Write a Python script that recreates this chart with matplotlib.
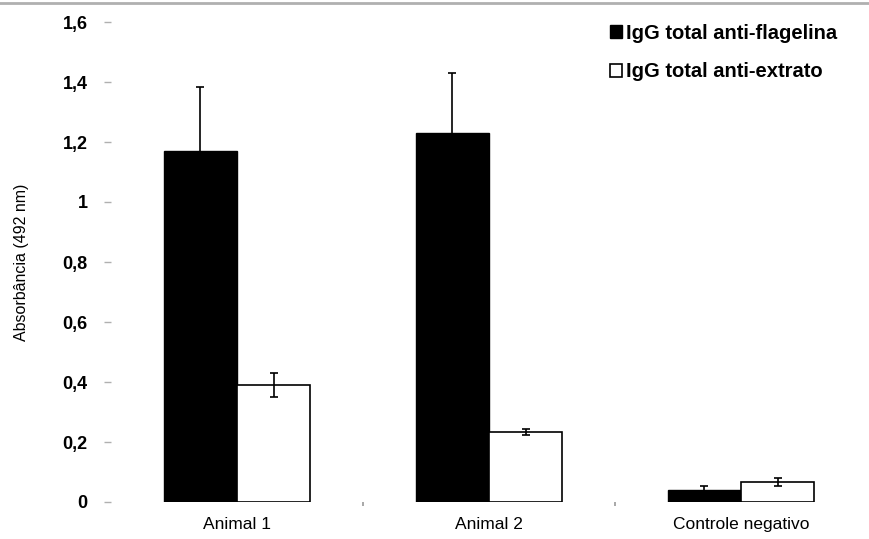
import numpy as np
import matplotlib
matplotlib.use("Agg")
import matplotlib.pyplot as plt
from matplotlib.patches import Patch
from matplotlib.lines import Line2D

# Absorbance (492 nm) of total IgG, per animal
categories = ["Animal 1", "Animal 2", "Controle negativo"]
flagelina = [1.17, 1.23, 0.04]
flagelina_err = [0.215, 0.20, 0.013]
extrato = [0.39, 0.235, 0.067]
extrato_err = [0.04, 0.01, 0.013]

series_labels = ["IgG total anti-flagelina", "IgG total anti-extrato"]
yticks = [0, 0.2, 0.4, 0.6, 0.8, 1.0, 1.2, 1.4, 1.6]
ytick_labels = ["0", "0,2", "0,4", "0,6", "0,8", "1", "1,2", "1,4", "1,6"]

plt.rcParams["font.family"] = ["Liberation Sans", "DejaVu Sans"]

W, H = 869, 539
fig = plt.figure(figsize=(W / 100, H / 100), dpi=100)
ax = fig.add_axes([111 / W, 1 - 502 / H, (867 - 111) / W, (502 - 22) / H])

x = np.arange(len(categories))
width = 0.29
err_kw = dict(ecolor="black", elinewidth=1.2, capsize=2.6, capthick=1.2)

ax.bar(x - width / 2, flagelina, width, yerr=flagelina_err, color="black",
       edgecolor="black", linewidth=1.0, error_kw=err_kw, zorder=2)
ax.bar(x + width / 2, extrato, width, yerr=extrato_err, color="white",
       edgecolor="black", linewidth=1.2, error_kw=err_kw, zorder=2)

ax.set_xlim(-0.5, len(categories) - 0.5)
ax.set_ylim(0, 1.6)

for s in ax.spines.values():
    s.set_visible(False)

ax.set_yticks(yticks)
ax.set_yticklabels(ytick_labels, fontsize=13, fontweight="bold")
ax.tick_params(axis="y", length=5, width=1, color="#b0b0b0", pad=12)

ax.set_xticks(x)
ax.set_xticklabels(categories, fontsize=12.5)
ax.tick_params(axis="x", which="major", length=0, pad=11)
ax.set_xticks([0.5, 1.5], minor=True)
ax.tick_params(axis="x", which="minor", length=3, width=1.2, color="#999999")

ax.set_ylabel("Absorbância (492 nm)", fontsize=11.5)
ax.yaxis.set_label_coords(-0.108, 0.5)

handles = [Patch(facecolor="black", edgecolor="black"),
           Patch(facecolor="white", edgecolor="black", linewidth=1.2)]
fig.legend(handles, series_labels, loc="upper left",
           bbox_to_anchor=(610 / W, 1 - 24 / H), frameon=False,
           prop={"size": 14.5, "weight": "bold"}, handlelength=0.62,
           handleheight=0.62, handletextpad=0.15, labelspacing=0.95,
           borderpad=0, borderaxespad=0)

# thin grey rule across the top of the figure
fig.add_artist(Line2D([0, 1], [1 - 2.5 / H, 1 - 2.5 / H], color="#b0b0b0",
                      linewidth=2, transform=fig.transFigure))

fig.savefig("out.png", dpi=100)
